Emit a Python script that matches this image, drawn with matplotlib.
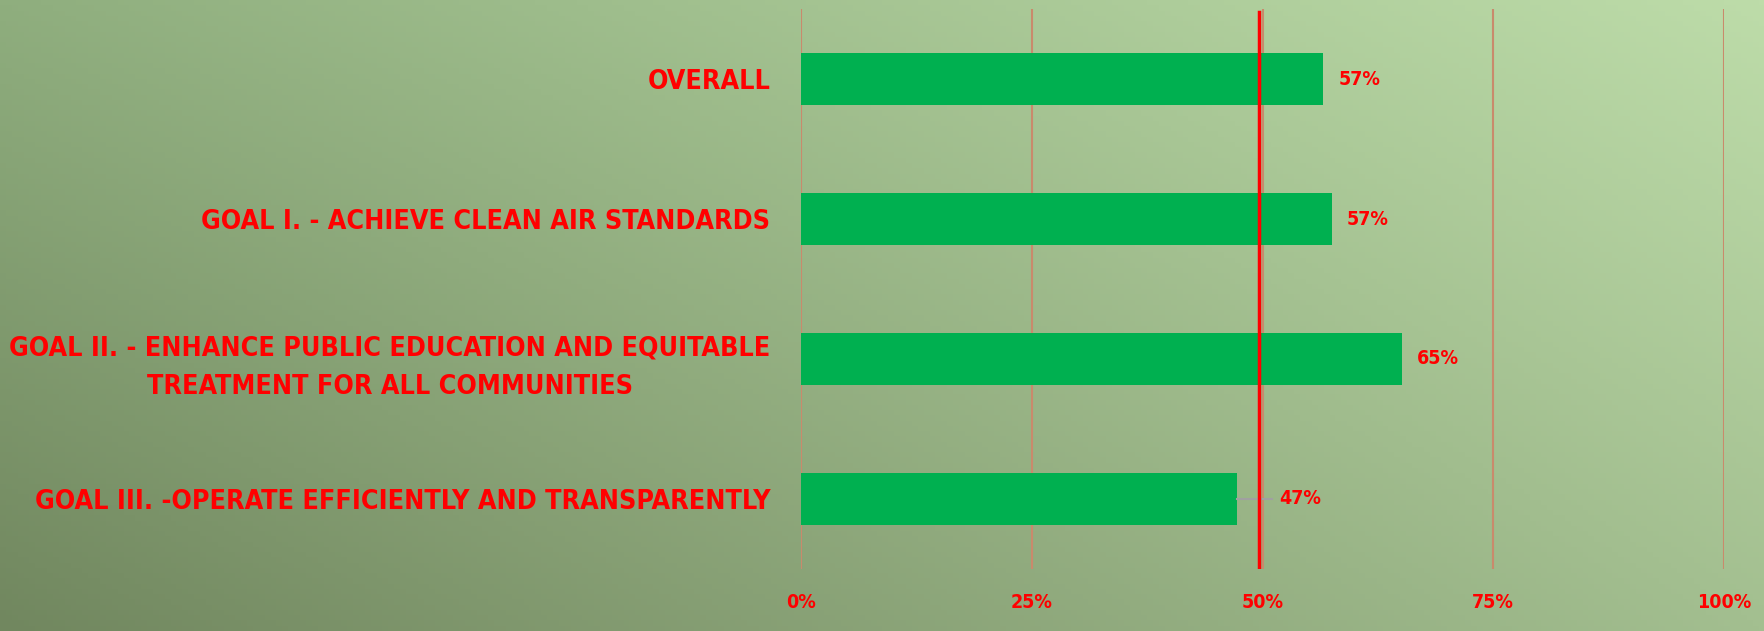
import numpy as np
import matplotlib.pyplot as plt
from matplotlib import font_manager as fm
from matplotlib.colors import to_rgb

# pick a narrow bold face if one is installed (reference uses Calibri Bold)
names = {f.name for f in fm.fontManager.ttflist}
stretch = "normal"
if "Liberation Sans Narrow" in names:
    family = "Liberation Sans Narrow"
elif any(f.name == "DejaVu Sans" and "condensed" in str(f.stretch) for f in fm.fontManager.ttflist):
    family, stretch = "DejaVu Sans", "condensed"
else:
    family = "Roboto" if "Roboto" in names else "DejaVu Sans"
plt.rcParams["font.family"] = [family, "DejaVu Sans"]
plt.rcParams["font.stretch"] = stretch
plt.rcParams["font.weight"] = "bold"

# data
categories = ["OVERALL",
              "GOAL I. - ACHIEVE CLEAN AIR STANDARDS",
              "GOAL II. - ENHANCE PUBLIC EDUCATION AND EQUITABLE\nTREATMENT FOR ALL COMMUNITIES",
              "GOAL III. -OPERATE EFFICIENTLY AND TRANSPARENTLY"]
values = [0.566, 0.575, 0.651, 0.472]
value_labels = ["57%", "57%", "65%", "47%"]
ticks = [0, 0.25, 0.5, 0.75, 1.0]
tick_labels = ["0%", "25%", "50%", "75%", "100%"]
target = 0.496

red = "#ff0000"
green = "#00b050"

fig = plt.figure(figsize=(17.65, 6.31), dpi=100)

# background gradient (bilinear between four corners)
bg = fig.add_axes([0, 0, 1, 1], zorder=-10)
tl, tr = np.array(to_rgb("#8fae7e")), np.array(to_rgb("#bddca9"))
bl, br = np.array(to_rgb("#71875f")), np.array(to_rgb("#a3bf90"))
u = np.linspace(0, 1, 300)[None, :, None]
v = np.linspace(0, 1, 120)[:, None, None]
img = (1 - v) * ((1 - u) * tl + u * tr) + v * ((1 - u) * bl + u * br)
bg.imshow(img, aspect="auto", extent=[0, 1, 0, 1], origin="upper")
bg.axis("off")

ax = fig.add_axes([0.4538, 0.0983, 0.5230, 0.8874])
ax.patch.set_alpha(0)
y = np.arange(len(categories))
ax.barh(y, values, height=0.37, color=green, zorder=2)

ax.set_xlim(0, 1)
ax.set_ylim(3.5, -0.5)
for t in ticks:
    ax.axvline(t, color="#c98a6c", lw=1.5, zorder=1)
ax.axvline(target, ymin=0, ymax=0.995, color=red, lw=2.5, zorder=3)

# size the small labels so "57%" is about 42 px wide, like the reference
probe = fig.text(0, 0, "57%", fontsize=16)
fig.canvas.draw()
small = 16 * 42 / probe.get_window_extent().width
probe.remove()

for yi, val, lab in zip(y, values, value_labels):
    if val < target and target - val < 0.05:
        ax.plot([val, 0.51], [yi, yi], color="#a0a0a0", lw=1.5, zorder=2)
        ax.text(0.518, yi, lab, va="center", ha="left", color=red,
                fontsize=small, fontweight="bold")
    else:
        ax.annotate(lab, (val, yi), xytext=(11, 0), textcoords="offset points",
                    va="center", ha="left", color=red, fontsize=small,
                    fontweight="bold")

ax.set_xticks(ticks)
ax.set_xticklabels(tick_labels, color=red, fontsize=small, fontweight="bold")
ax.tick_params(axis="x", length=0, pad=17)
ax.set_yticks(y)
labels = ax.set_yticklabels(categories, color=red, fontsize=21, fontweight="bold",
                            multialignment="center", linespacing=1.6)
ax.tick_params(axis="y", length=0, pad=22)
for s in ax.spines.values():
    s.set_visible(False)

# fit the long category label to the ~755 px it spans in the reference
fig.canvas.draw()
w = labels[2].get_window_extent().width
for lab in labels:
    lab.set_fontsize(21 * 755 / w)

fig.savefig("out.png", dpi=100)
